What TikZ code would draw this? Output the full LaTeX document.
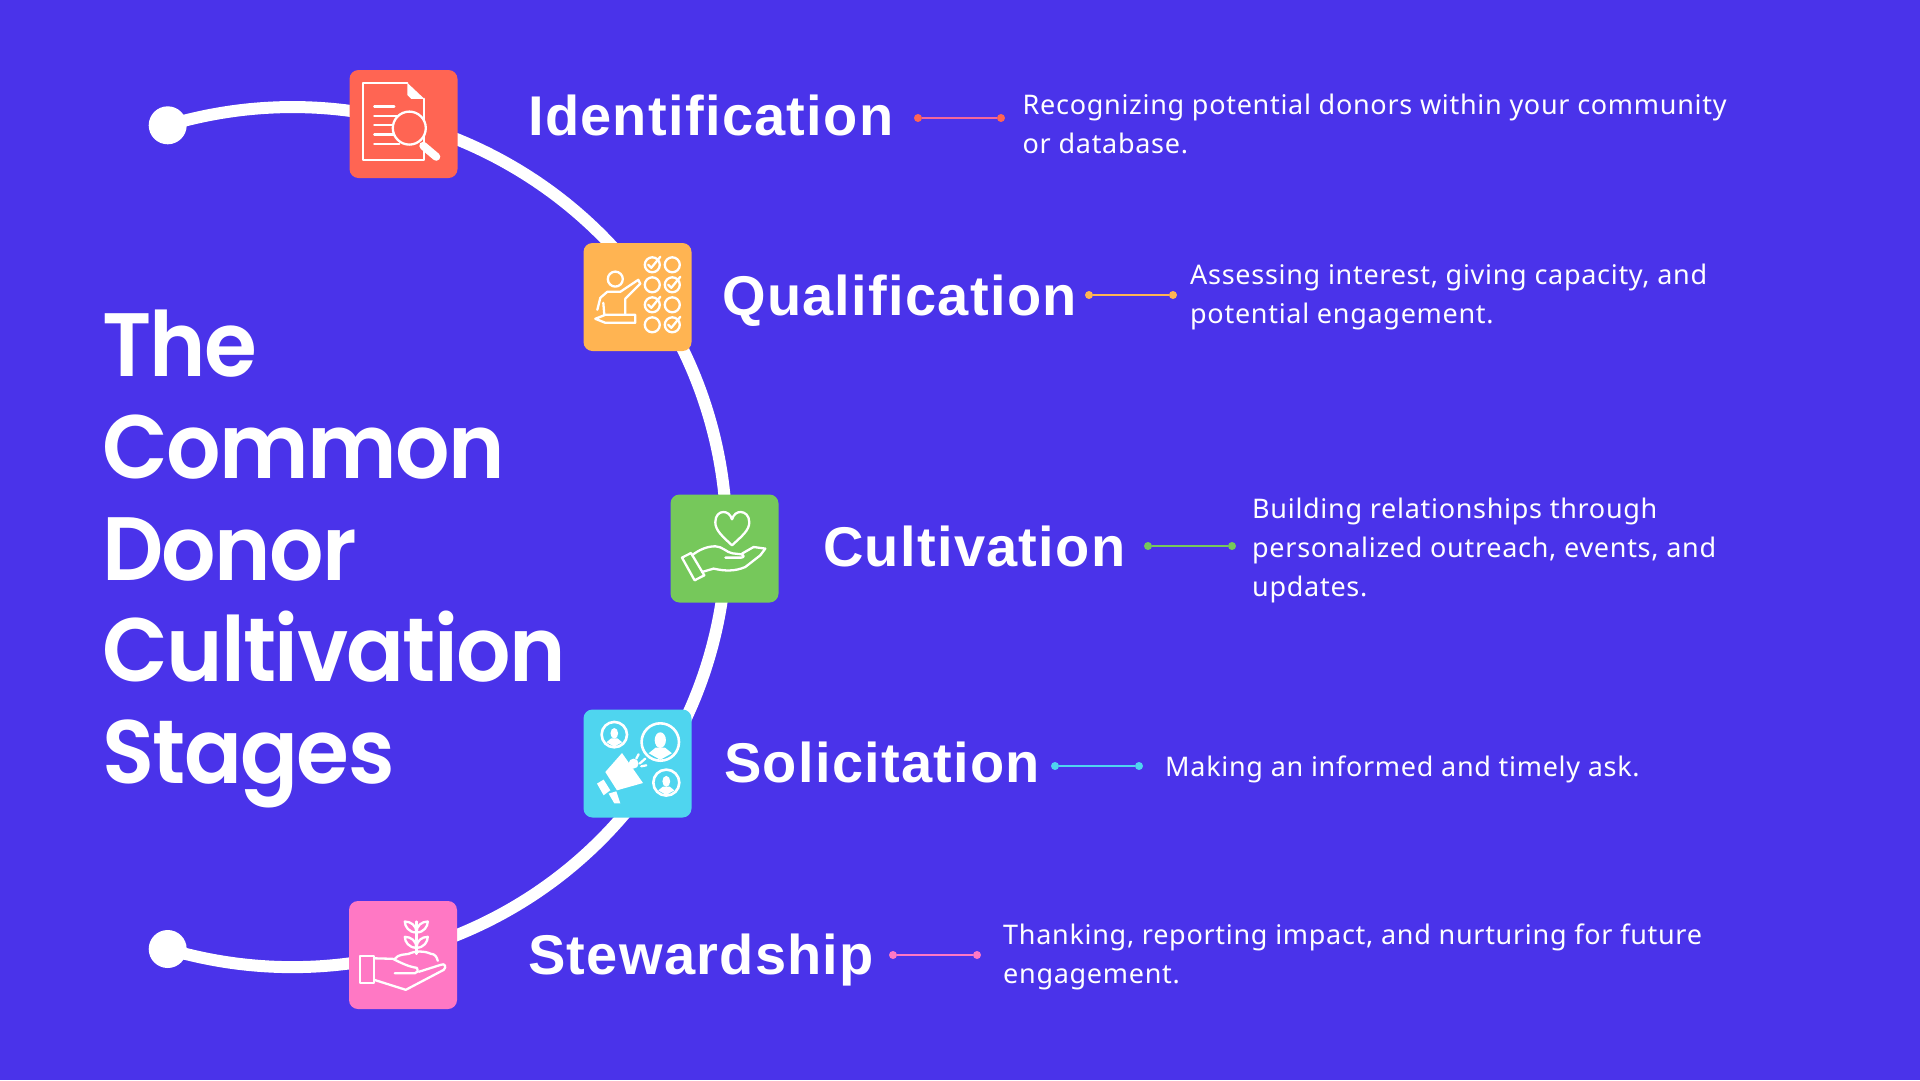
\documentclass[tikz,border=0pt]{standalone}
\usepackage{fontspec}
\setmainfont{Noto Sans}[LetterSpace=2.6]
\newfontfamily\headfont{Poppins}[UprightFont={* SemiBold}, FakeStretch=0.95, LetterSpace=-1.8]
\newfontfamily\namefont{Liberation Sans}[BoldFont={* Bold}, LetterSpace=2.3]
\definecolor{bgblue}{HTML}{4A33EA}
\definecolor{redbox}{HTML}{FF6553}
\definecolor{orangebox}{HTML}{FFB452}
\definecolor{greenbox}{HTML}{76C85B}
\definecolor{cyanbox}{HTML}{4FD5EF}
\definecolor{pinkbox}{HTML}{FF78C4}
\definecolor{redline}{HTML}{F4679A}
\tikzset{
  spine/.style={draw=white, line width=12pt},
  enddot/.style={circle, fill=white, inner sep=0pt, minimum size=38pt},
  stagebox/.style={rectangle, rounded corners=9pt, inner sep=0pt, minimum size=108pt},
  stagelabel/.style={anchor=base west, inner sep=0pt, text=white, font=\namefont\fontsize{56}{60}\selectfont\bfseries},
  stagetext/.style={anchor=west, inner sep=0pt, align=left, text=white, font=\fontsize{27}{39}\selectfont},
  headtext/.style={anchor=north west, inner sep=0pt, align=left, text=white, font=\headfont\fontsize{90}{101.6}\selectfont},
  tickdot/.style={circle, inner sep=0pt, minimum size=8pt},
  tickline/.style={line width=2.5pt},
  iconline/.style={draw=white, line width=2.3pt, line cap=round, line join=round},
}
\begin{document}
\begin{tikzpicture}[x=1pt, y=-1pt]
\useasboundingbox (0,0) rectangle (1920,1080);
\fill[bgblue] (0,0) rectangle (1920,1080);

% arc and its two ends
\node[enddot] (dottop) at (167.7,125.3) {};
\node[enddot] (dotbot) at (167.7,949) {};
\draw[spine] (dottop.center) arc[start angle=106.7, end angle=-106.7, x radius=434pt, y radius=430pt];

% boxes
\node[stagebox, fill=redbox]    (boxident) at (403.5,124) {};
\node[stagebox, fill=orangebox] (boxqual)  at (637.5,297) {};
\node[stagebox, fill=greenbox]  (boxcult)  at (724.5,548.5) {};
\node[stagebox, fill=cyanbox]   (boxsolic) at (637.5,763.5) {};
\node[stagebox, fill=pinkbox]   (boxstew)  at (403,955) {};

% heading
\node[headtext] (heading) at (102,310) {The\\Common\\Donor\\Cultivation\\Stages};

% stage names
\node[stagelabel] (nameident) at (528,135.7) {Identification};
\node[stagelabel] (namequal)  at (722,315) {Qualification};
\node[stagelabel] (namecult)  at (823,566) {Cultivation};
\node[stagelabel] (namesolic) at (724,782) {Solicitation};
\node[stagelabel] (namestew)  at (528,974) {Stewardship};

% short connectors
\node[tickdot, fill=redbox] (identa) at (918,118) {};
\node[tickdot, fill=redbox] (identb) at (1001,118) {};
\draw[tickline, redline] (identa) -- (identb);
\node[tickdot, fill=orangebox] (quala) at (1089,295) {};
\node[tickdot, fill=orangebox] (qualb) at (1173,295) {};
\draw[tickline, orangebox] (quala) -- (qualb);
\node[tickdot, fill=greenbox] (culta) at (1148,546) {};
\node[tickdot, fill=greenbox] (cultb) at (1232,546) {};
\draw[tickline, greenbox] (culta) -- (cultb);
\node[tickdot, fill=cyanbox] (solica) at (1055,766) {};
\node[tickdot, fill=cyanbox] (solicb) at (1139,766) {};
\draw[tickline, cyanbox] (solica) -- (solicb);
\node[tickdot, fill=pinkbox] (stewa) at (893,955) {};
\node[tickdot, fill=pinkbox] (stewb) at (977,955) {};
\draw[tickline, pinkbox] (stewa) -- (stewb);

% descriptions
\node[stagetext] (textident) at (1022.5,123.5) {Recognizing potential donors within your community\\or database.};
\node[stagetext] (textqual)  at (1190,297) {Assessing interest, giving capacity, and\\potential engagement.};
\node[stagetext] (textcult)  at (1252,550.5) {Building relationships through\\personalized outreach, events, and\\updates.};
\node[stagetext] (textsolic) at (1165,769.5) {Making an informed and timely ask.};
\node[stagetext] (textstew)  at (1003,957) {Thanking, reporting impact, and nurturing for future\\engagement.};

% document and lens
\begin{scope}[shift={(boxident.north west)}]
\draw[iconline] (58,13) -- (14,13) -- (14,90) -- (75,90) -- (75,29);
\fill[white] (58,13) -- (75,29) -- (62,29) -- (58,25) -- cycle;
\foreach \yy/\xx in {36.7/45, 46/48, 55/46, 64.7/46, 74/50}
  \draw[iconline] (25,\yy) -- (\xx,\yy);
\draw[white, line width=8pt, line cap=round] (74,76) -- (87,87);
\filldraw[iconline, fill=redbox] (60,58.3) circle (16.5pt);
\end{scope}

% person and check list
\begin{scope}[shift={(boxqual.north west)}]
\draw[iconline] (32,36.3) circle (7.5pt);
\draw[iconline] (14,67) -- (17,55) -- (24,49) -- (37,49) -- (55,37) -- (57,41) -- (42,56) -- (42,72);
\draw[iconline] (20,60) -- (21,72);
\draw[iconline] (12,76) -- (22,72) -- (52,72) -- (52,80) -- (22,80) -- cycle;
\foreach \xx in {69,89} \foreach \yy in {22,42,62,82}
  \draw[iconline] (\xx,\yy) circle (7.5pt);
\foreach \xx/\yy in {69/22, 89/42, 69/62, 89/82}
  \draw[iconline] (\xx-4,\yy) -- (\xx-1,\yy+3) -- (\xx+8,\yy-8);
\end{scope}

% hand and heart
\begin{scope}[shift={(boxcult.north west)}]
\draw[iconline] (61.7,51) .. controls (52,42) and (45,36) .. (45,28) .. controls (45,21) and (49,17.7) .. (53,17.7) .. controls (57,17.7) and (60,20) .. (61.7,25) .. controls (63.4,20) and (66.4,17.7) .. (70.4,17.7) .. controls (74.4,17.7) and (79,21) .. (79,28) .. controls (79,36) and (71.4,42) .. (61.7,51) -- cycle;
\draw[iconline] (11.7,63.3) -- (20.7,58.7) -- (34,81) -- (24.3,86) -- cycle;
\draw[iconline] (21.7,61) .. controls (28,56) and (36,52) .. (45,52) .. controls (52,52) and (56,58) .. (62,59) -- (71,60) .. controls (74,61) and (74,63) .. (71,63.3) -- (55,63.3);
\draw[iconline] (71.7,59.3) -- (83.3,52.7) -- (95,54.3) -- (90,61) -- (75,72.7) .. controls (65,77) and (55,77) .. (43.3,74.3) -- (31.7,77.7);
\end{scope}

% megaphone and people
\begin{scope}[shift={(boxsolic.north west)}]
\foreach \xx/\yy/\rr in {31/25.3/12.7, 77/32.7/18.7, 83/73.3/13} {
  \draw[white, line width=2.6pt] (\xx,\yy) circle (\rr pt);
  \fill[white] (\xx,\yy-0.1*\rr) ellipse ({0.3*\rr pt} and {0.42*\rr pt});
  \fill[white] (\xx-0.62*\rr,\yy+0.6*\rr) -- (\xx-0.25*\rr,\yy+0.3*\rr) -- (\xx+0.25*\rr,\yy+0.3*\rr) -- (\xx+0.62*\rr,\yy+0.6*\rr) -- (\xx,\yy+0.95*\rr) -- cycle;
}
\fill[white] (38.7,43.7) -- (59.7,73.7) -- (33.7,81) -- (22,62.7) -- cycle;
\fill[white] (50.3,54.3) circle (5pt);
\fill[white] (13.7,74.3) -- (20.3,70.3) -- (27,81) -- (20.3,86) -- cycle;
\fill[white] (25.3,84.3) -- (33,82) -- (37,94) -- (31,94) -- cycle;
\draw[iconline] (53,49.3) -- (55.3,45);
\draw[iconline] (56.3,54.3) -- (62,49.3);
\draw[iconline] (58,57) -- (63,56);
\end{scope}

% hand and plant
\begin{scope}[shift={(boxstew.north west)}]
\draw[iconline] (11,55) rectangle (25.3,82.3);
\draw[iconline] (25.3,57.5) -- (44,58) .. controls (52,62) and (60,66) .. (68,67) .. controls (70,70) and (68,72.5) .. (66,72.5) -- (46,72.5);
\draw[iconline] (25.3,79) -- (57,89) -- (95,69) .. controls (98,66) and (96,62) .. (92,64) -- (70,71);
\draw[iconline] (46,58) .. controls (50,53) and (56,54) .. (60,53) .. controls (66,50) and (76,50) .. (82,53) .. controls (86,53) and (88,56) .. (89,60);
\draw[iconline] (67.7,20.7) -- (67.7,53);
\foreach \yy in {20.7,36}
{
  \draw[iconline] (67.7,\yy+11) .. controls (60,\yy+11) and (56,\yy+5) .. (56,\yy) .. controls (62,\yy) and (67.7,\yy+4) .. (67.7,\yy+11);
  \draw[iconline] (67.7,\yy+11) .. controls (75,\yy+11) and (79,\yy+5) .. (79,\yy) .. controls (73,\yy) and (67.7,\yy+4) .. (67.7,\yy+11);
}
\end{scope}
\end{tikzpicture}
\end{document}
